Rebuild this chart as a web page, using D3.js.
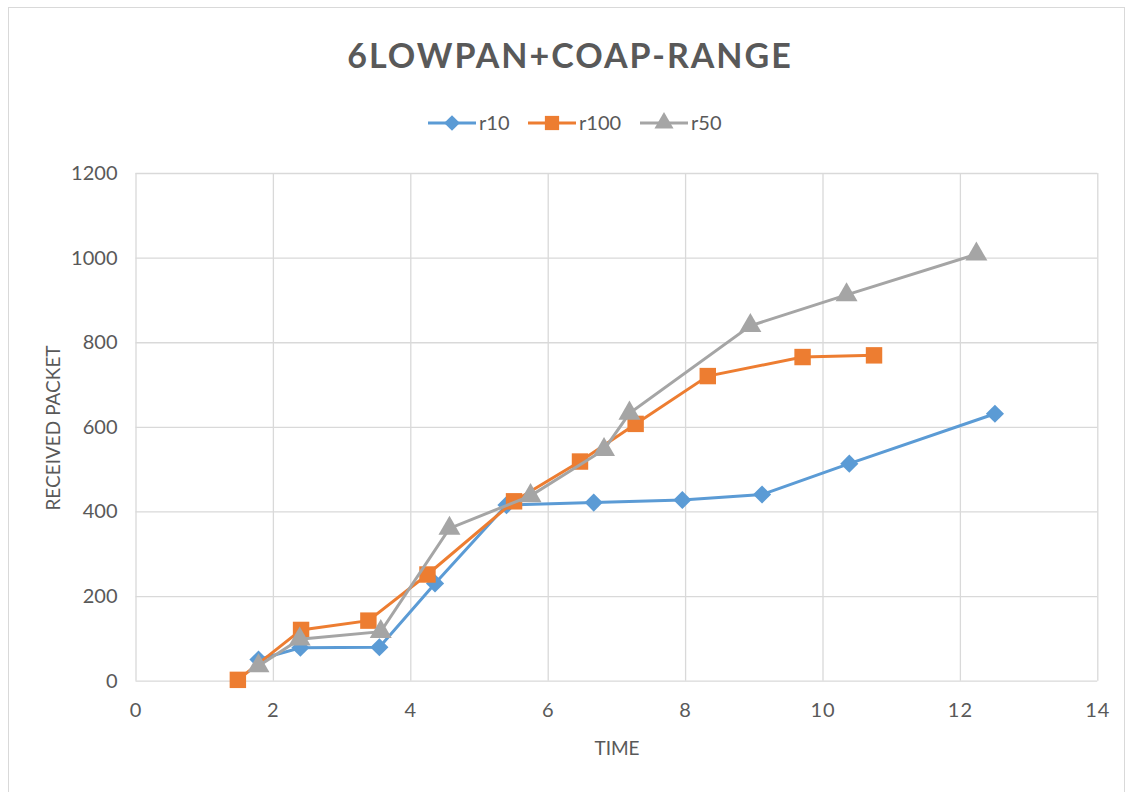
<!DOCTYPE html>
<html>
<head>
<meta charset="utf-8">
<script src="https://cdn.jsdelivr.net/npm/d3@7"></script>
<style>
  body { margin: 0; background: #fff; }
  text { font-family: Lato, "Open Sans", sans-serif; fill: #595959; }
</style>
</head>
<body>
<div id="chart"></div>
<script>
const chartTitle = '6LOWPAN+COAP-RANGE';
const xTitle = 'TIME';
const yTitle = 'RECEIVED PACKET';
const xTicks = [0, 2, 4, 6, 8, 10, 12, 14];
const yTicks = [0, 200, 400, 600, 800, 1000, 1200];

const seriesNames = ['r10', 'r100', 'r50'];
const r10Time = [1.79, 2.4, 3.55, 4.36, 5.4, 6.67, 7.96, 9.12, 10.39, 12.51];
const r10Packets = [50, 78, 79, 230, 415, 421, 427, 440, 513, 631];
const r100Time = [1.49, 2.41, 3.39, 4.25, 5.51, 6.47, 7.28, 8.33, 9.71, 10.75];
const r100Packets = [2, 120, 142, 251, 424, 518, 607, 720, 765, 769];
const r50Time = [1.79, 2.39, 3.57, 4.57, 5.75, 6.82, 7.19, 8.95, 10.35, 12.24];
const r50Packets = [35, 98, 116, 360, 437, 546, 632, 839, 912, 1008];

const colors = ['#5B9BD5', '#ED7D31', '#A5A5A5'];
const symbols = [d3.symbolDiamond2, d3.symbolSquare, d3.symbolTriangle];

const WIDTH = 1133;
const HEIGHT = 792;
const plot = { left: 135.5, right: 1097.3, top: 173, bottom: 680.7 };

const series = [
  { name: seriesNames[0], time: r10Time, packets: r10Packets },
  { name: seriesNames[1], time: r100Time, packets: r100Packets },
  { name: seriesNames[2], time: r50Time, packets: r50Packets },
].map((s, i) => ({
  ...s,
  color: colors[i],
  symbol: symbols[i],
  points: s.time.map((t, j) => [t, s.packets[j]]),
}));

const svg = d3.select('#chart').append('svg')
  .attr('width', WIDTH).attr('height', HEIGHT);

svg.append('rect')
  .attr('x', 8.5).attr('y', 7.5)
  .attr('width', 1116).attr('height', 800)
  .attr('fill', '#fff').attr('stroke', '#D9D9D9');

const x = d3.scaleLinear().domain([0, 14]).range([plot.left, plot.right]);
const y = d3.scaleLinear().domain([0, 1200]).range([plot.bottom, plot.top]);

// gridlines
svg.append('g')
  .attr('transform', `translate(0,${plot.bottom})`)
  .call(d3.axisBottom(x).tickValues(xTicks).tickSize(-(plot.bottom - plot.top)).tickFormat(''))
  .call((g) => g.select('.domain').remove())
  .selectAll('line').attr('stroke', '#D9D9D9').attr('stroke-width', 1.3);

svg.append('g')
  .attr('transform', `translate(${plot.left},0)`)
  .call(d3.axisLeft(y).tickValues(yTicks).tickSize(-(plot.right - plot.left)).tickFormat(''))
  .call((g) => g.select('.domain').remove())
  .selectAll('line').attr('stroke', '#D9D9D9').attr('stroke-width', 1.3);

// tick labels
const xAxis = svg.append('g')
  .attr('transform', `translate(0,${plot.bottom})`)
  .call(d3.axisBottom(x).tickValues(xTicks).tickSize(0).tickPadding(22).tickFormat(d3.format('d')));
xAxis.select('.domain').remove();
xAxis.selectAll('text').style('font-size', '20px').style('letter-spacing', '1px')
  .attr('fill', '#595959');

const yAxis = svg.append('g')
  .attr('transform', `translate(${plot.left},0)`)
  .call(d3.axisLeft(y).tickValues(yTicks).tickSize(0).tickPadding(18).tickFormat(d3.format('d')));
yAxis.select('.domain').remove();
yAxis.selectAll('text').style('font-size', '20px').attr('fill', '#595959');

// titles
svg.append('text')
  .attr('x', 570).attr('y', 68)
  .attr('text-anchor', 'middle')
  .style('font-size', '34px').style('font-weight', 'bold')
  .style('letter-spacing', '2px')
  .text(chartTitle);

svg.append('text')
  .attr('x', 617).attr('y', 755)
  .attr('text-anchor', 'middle')
  .style('font-size', '19px')
  .text(xTitle);

svg.append('text')
  .attr('transform', 'translate(60,428) rotate(-90)')
  .attr('text-anchor', 'middle')
  .style('font-size', '19px')
  .text(yTitle);

// series
const line = d3.line().x((d) => x(d[0])).y((d) => y(d[1]));
const markerSize = [210, 270, 210];

series.forEach((s, i) => {
  const g = svg.append('g');
  g.append('path')
    .attr('d', line(s.points))
    .attr('fill', 'none')
    .attr('stroke', s.color)
    .attr('stroke-width', 3);
  g.selectAll('path.marker')
    .data(s.points)
    .join('path')
    .attr('class', 'marker')
    .attr('d', d3.symbol().type(s.symbol).size(markerSize[i]))
    .attr('transform', (d) => `translate(${x(d[0])},${y(d[1])})`)
    .attr('fill', s.color);
});

// legend
const legendX = [428, 528, 640];
const legend = svg.append('g');
series.forEach((s, i) => {
  const item = legend.append('g').attr('transform', `translate(${legendX[i]},123)`);
  item.append('line').attr('x1', 0).attr('x2', 48)
    .attr('stroke', s.color).attr('stroke-width', 3);
  item.append('path')
    .attr('d', d3.symbol().type(s.symbol).size(markerSize[i] * 0.75))
    .attr('transform', 'translate(24,0)')
    .attr('fill', s.color);
  item.append('text').attr('x', 51).attr('y', 7)
    .style('font-size', '20px')
    .text(s.name);
});
</script>
</body>
</html>
